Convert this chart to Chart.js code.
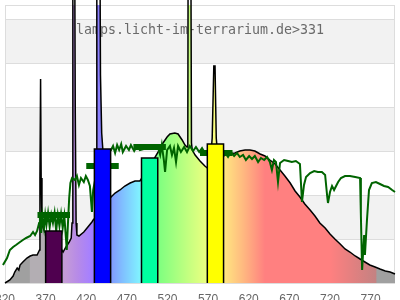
<!DOCTYPE html>
<html>
<head>
<meta charset="utf-8">
<script src="https://cdn.jsdelivr.net/npm/chart.js@4"></script>
<style>
  body { margin: 0; background: #fff; }
  #wrap { width: 400px; height: 300px; }
</style>
</head>
<body>
<div id="wrap"><canvas id="spectrumChart" width="400" height="300"></canvas></div>
<script>
// Lampe: Spektrum (nm / relative Intensität)
const specNm = [320, 326, 330, 332, 335, 337, 338.5, 342, 347, 351, 354.5, 359.5, 362.5, 363, 363.8, 364.5, 365.5, 367, 369, 380,
  391.5, 395, 399, 401.5, 402.5, 403.5, 405.5, 406.5, 407.5, 408.5, 411, 417, 422, 427, 428.5, 432, 433, 436.5, 437.5, 439, 445,
  450.5, 455.5, 461.5, 467.5, 474, 480, 486, 497, 508.5, 514.5, 519.5, 523, 529, 533, 538, 541.5, 544, 545, 545.5, 548.5, 549.5,
  550.5, 554, 560, 566, 567.5, 572, 575, 577, 578.5, 580, 582, 586, 591, 597, 603, 609, 615.5, 621.5, 627.5, 634, 640, 646,
  652.5, 658.5, 664.5, 671, 677, 683, 689, 695.5, 701.5, 707.5, 714, 720, 726, 732.5, 738.5, 744.5, 751, 757, 763, 769, 775.5,
  781.5, 788, 794, 800];
const specVal = [0, 3, 7, 11, 15, 13, 18, 21, 25, 27, 28, 28, 33, 105, 204, 105, 60, 55, 51, 45,
  31, 36, 41, 45, 60, 400, 400, 170, 60, 48, 47, 51, 56, 61, 63, 66, 400, 400, 208, 150, 80,
  86, 90, 93, 97, 100, 102, 102, 115, 131, 140, 146, 149, 150, 149, 143, 138, 136, 140, 400, 400, 140,
  133, 128, 122, 117, 116, 113, 145, 217, 217, 145, 125, 125, 128, 129, 130, 132, 133, 133, 132, 129, 127, 123,
  119, 113, 107, 100, 92, 86, 79, 73, 67, 60, 55, 49, 44, 39, 34, 31, 27, 24, 21, 18, 16,
  14, 12, 11, 9];

// Sonnenlicht zum Vergleich
const sunNm = [314, 317.5, 322.5, 326, 330, 333.5, 338.5, 342, 346, 351, 354.5, 357, 359.5, 362, 363, 364.5, 366, 368, 369.5,
  371, 373, 375, 377, 379, 381, 383, 385, 387, 389, 391, 393, 395, 396, 397.5, 399, 400.5, 402.5, 406, 408.5, 411, 413.5,
  417, 419.5, 422, 424.5, 427, 428.5, 435, 445, 450.5, 453, 455.5, 458, 460.5, 463, 465, 469, 472.5, 475, 479, 482.5, 486,
  495, 508.5, 511, 513, 515.5, 517, 519.5, 523, 525.5, 528, 530.5, 533, 536.5, 540.5, 544, 547.5, 551.5, 555, 559, 562.5,
  566, 580, 591, 594.5, 598, 602, 605.5, 609, 613, 616.5, 620.5, 624, 627.5, 631.5, 635, 639, 642.5, 646, 648.5, 651,
  653.5, 656, 658.5, 663.5, 668.5, 673, 678, 683, 685.5, 688, 690.5, 695.5, 700.5, 705, 710, 714, 716.5, 717.5, 720, 722.5,
  725, 727.5, 730, 733.5, 738.5, 744.5, 751, 757, 758, 759.5, 762, 763, 765.5, 768, 771.5, 776.5, 781.5, 786.5, 791.5,
  796.5, 800, 803];
const sunVal = [15, 18, 25, 33, 36, 38, 41, 43, 45, 47, 51, 48, 52, 60, 68, 50, 67, 55, 68,
  58, 70, 56, 68, 60, 70, 52, 68, 57, 69, 55, 67, 45, 33, 60, 85, 100, 105, 103, 107, 98, 105,
  101, 107, 103, 97, 71, 93, 120, 130, 133, 137, 130, 138, 133, 139, 131, 137, 133, 138, 132, 137, 133,
  135, 135, 128, 138, 123, 111, 133, 137, 128, 135, 121, 137, 131, 136, 131, 137, 132, 136, 131, 135,
  130, 130, 130, 126, 131, 127, 130, 126, 128, 123, 127, 124, 127, 121, 125, 123, 126, 121, 113, 123,
  121, 101, 120, 123, 122, 121, 122, 119, 81, 98, 106, 110, 112, 111, 111, 108, 87, 80, 91, 97,
  93, 97, 101, 105, 107, 107, 106, 105, 68, 13, 48, 28, 63, 93, 100, 101, 99, 97, 96,
  93, 91, 90];

// Farbbänder (LED-Kanäle)
const bandFrom = [370, 430, 488, 569];
const bandTo = [390, 450, 508, 589];
const bandVal = [52, 134, 125, 139];
const bandColors = ['#4f004f', '#0000ff', '#00ffa0', '#ffff00'];

// Sonnenlicht-Mittelwert je Band
const markFrom = [360, 420, 478, 560];
const markTo = [400, 460, 518, 600];
const markVal = [68, 117, 136, 130];

const xTicks = [320, 370, 420, 470, 520, 570, 620, 670, 720, 770];
const yGrid = [0, 44, 88, 132, 176, 220, 264];
const caption = 'lamps.licht-im-terrarium.de>331';

const fillStops = [
  [320, '#a0a0a0'], [350, '#a0a0a0'], [351, '#b3aeb3'], [370, '#b3aeb3'], [380, '#bda0cc'],
  [395, '#c49ad8'], [410, '#b68ae8'], [425, '#a680ff'], [440, '#8080ff'], [450, '#8098ff'],
  [465, '#80c0ff'], [485, '#80f0ff'], [495, '#80ffc0'], [510, '#80ff80'], [530, '#a6ff80'],
  [550, '#ccff80'], [565, '#e6ff80'], [580, '#ffff80'], [595, '#ffdc80'], [610, '#ffbf80'],
  [625, '#ffa080'], [640, '#ff8080'], [720, '#ff8080'], [750, '#e08080'], [776, '#c48282'],
  [778, '#a0a0a0'], [800, '#a0a0a0']
];

function spectrumFill(context) {
  const chart = context.chart;
  if (!chart.chartArea) return 'transparent';
  const xs = chart.scales.x;
  const x0 = xs.getPixelForValue(320);
  const x1 = xs.getPixelForValue(800);
  const g = chart.ctx.createLinearGradient(x0, 0, x1, 0);
  fillStops.forEach(s => g.addColorStop((s[0] - 320) / 480, s[1]));
  return g;
}

const stripes = {
  id: 'stripes',
  beforeDraw(chart) {
    const { ctx, chartArea, scales } = chart;
    ctx.save();
    ctx.fillStyle = '#ffffff';
    ctx.fillRect(0, 0, chart.width, chart.height);
    ctx.fillStyle = '#f2f2f2';
    for (let i = 1; i < yGrid.length; i += 2) {
      const top = scales.y.getPixelForValue(yGrid[i + 1] !== undefined ? yGrid[i + 1] : scales.y.max);
      const bottom = scales.y.getPixelForValue(yGrid[i]);
      ctx.fillRect(chartArea.left, top, chartArea.right - chartArea.left, bottom - top);
    }
    ctx.restore();
  },
  beforeDatasetsDraw(chart) {
    const { ctx, chartArea } = chart;
    ctx.save();
    ctx.strokeStyle = '#dddddd';
    ctx.lineWidth = 1;
    ctx.strokeRect(chartArea.left + 0.5, chartArea.top + 0.5, chartArea.right - chartArea.left - 1, chartArea.bottom - chartArea.top);
    ctx.font = '13.3px "DejaVu Sans Mono", monospace';
    ctx.fillStyle = '#6a6a6a';
    ctx.textAlign = 'center';
    ctx.textBaseline = 'middle';
    ctx.fillText(caption, (chartArea.left + chartArea.right) / 2, 31);
    ctx.restore();
  }
};

const datasets = [];

// Bänder als Rechtecke
bandFrom.forEach((from, i) => {
  datasets.push({
    data: [{ x: from, y: 0 }, { x: from, y: bandVal[i] }, { x: bandTo[i], y: bandVal[i] }, { x: bandTo[i], y: 0 }],
    borderColor: '#000000',
    borderWidth: 1.5,
    backgroundColor: bandColors[i],
    fill: 'origin',
    pointRadius: 0,
    order: 0
  });
});

markFrom.forEach((from, i) => {
  datasets.push({
    data: [{ x: from, y: markVal[i] }, { x: markTo[i], y: markVal[i] }],
    borderColor: '#006400',
    borderWidth: 6,
    borderCapStyle: 'butt',
    fill: false,
    pointRadius: 0,
    order: 1
  });
});

datasets.push({
  data: sunNm.map((nm, i) => ({ x: nm, y: sunVal[i] })),
  borderColor: '#006400',
  borderWidth: 2,
  fill: false,
  pointRadius: 0,
  clip: false,
  order: 2
});

datasets.push({
  data: specNm.map((nm, i) => ({ x: nm, y: specVal[i] })),
  borderColor: '#000000',
  borderWidth: 1.5,
  backgroundColor: spectrumFill,
  fill: 'origin',
  pointRadius: 0,
  clip: false,
  order: 3
});

const spectrumChart = new Chart(document.getElementById('spectrumChart').getContext('2d'), {
  type: 'line',
  data: { datasets: datasets },
  options: {
    responsive: false,
    animation: false,
    events: [],
    layout: { padding: { left: 5, right: 5, top: 5, bottom: 0 } },
    plugins: { legend: { display: false }, tooltip: { enabled: false } },
    elements: { line: { tension: 0 } },
    scales: {
      x: {
        type: 'linear',
        min: 320,
        max: 800,
        afterBuildTicks(scale) { scale.ticks = xTicks.map(v => ({ value: v })); },
        afterFit(scale) { scale.height = 17; scale.paddingLeft = 0; scale.paddingRight = 0; },
        ticks: { color: '#666666', padding: 9, maxRotation: 0, autoSkip: false, font: { size: 12 } },
        grid: { display: false, drawTicks: false },
        border: { display: false }
      },
      y: {
        min: 0,
        max: 278,
        afterBuildTicks(scale) { scale.ticks = yGrid.map(v => ({ value: v })); },
        afterFit(scale) { scale.width = 0; },
        ticks: { display: false },
        grid: { color: '#dddddd', drawTicks: false },
        border: { display: false }
      }
    }
  },
  plugins: [stripes]
});
</script>
</body>
</html>
